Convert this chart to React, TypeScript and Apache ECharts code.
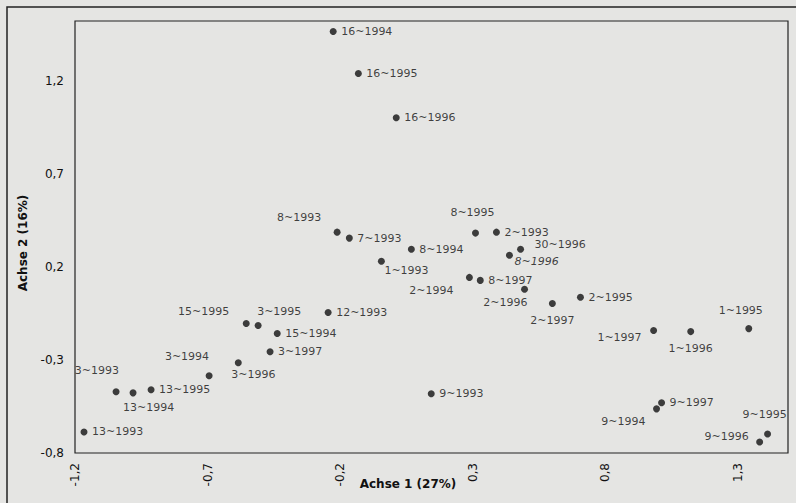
import React, { useEffect, useRef } from "react";
import * as echarts from "echarts";

const pointNames = [
  "16~1994", "16~1995", "16~1996", "8~1993", "7~1993", "8~1994", "1~1993", "8~1995", "2~1993",
  "30~1996", "8~1996", "2~1994", "8~1997", "2~1996", "2~1997", "2~1995", "12~1993", "15~1995",
  "3~1995", "15~1994", "3~1997", "3~1996", "3~1994", "3~1993", "13~1994", "13~1995", "13~1993",
  "9~1993", "1~1997", "1~1996", "1~1995", "9~1997", "9~1994", "9~1995", "9~1996",
];
const axis1Values = [
  -0.226, -0.131, 0.012, -0.211, -0.165, 0.069, -0.044, 0.311, 0.39,
  0.481, 0.439, 0.288, 0.329, 0.496, 0.601, 0.707, -0.245, -0.554,
  -0.509, -0.437, -0.464, -0.584, -0.694, -1.045, -0.981, -0.913, -1.166,
  0.144, 0.983, 1.123, 1.342, 1.013, 0.994, 1.413, 1.383,
];
const axis2Values = [
  1.464, 1.238, 1.0, 0.386, 0.354, 0.294, 0.23, 0.381, 0.386,
  0.294, 0.262, 0.143, 0.127, 0.079, 0.003, 0.036, -0.045, -0.105,
  -0.115, -0.158, -0.256, -0.315, -0.385, -0.471, -0.477, -0.46, -0.687,
  -0.482, -0.142, -0.148, -0.132, -0.53, -0.563, -0.698, -0.741,
];
const xTickStart = -1.2;
const yTickStart = -0.8;
const tickStep = 0.5;

// label placement (offset from dot centre, text alignment)
const labelPlacement: Record<string, [number, number, string]> = {
  "8~1993": [-16, -15, "right"],
  "1~1993": [3, 9, "left"],
  "8~1995": [-3, -21, "center"],
  "30~1996": [14, -5, "left"],
  "8~1996": [5, 6, "left"],
  "2~1994": [-16, 13, "right"],
  "2~1996": [3, 13, "right"],
  "2~1997": [0, 17, "center"],
  "15~1995": [-17, -12, "right"],
  "3~1995": [-1, -14, "left"],
  "3~1996": [-7, 12, "left"],
  "3~1994": [0, -19, "right"],
  "3~1993": [3, -21, "right"],
  "13~1994": [-10, 15, "left"],
  "1~1997": [-12, 7, "right"],
  "1~1996": [0, 17, "center"],
  "1~1995": [-8, -18, "center"],
  "9~1994": [-11, 13, "right"],
  "9~1995": [-3, -20, "center"],
  "9~1996": [-11, -6, "right"],
};
const italicLabels = ["8~1996"];

const FONT = "'DejaVu Sans', Verdana, sans-serif";
const INK = "#111";
const PAPER = "#e5e5e3";

function fmt(start: number) {
  return (v: number) => {
    const k = (v - start) / tickStep;
    if (Math.abs(k - Math.round(k)) > 1e-6) return "";
    return v.toFixed(1).replace(".", ",");
  };
}

export default function App() {
  const ref = useRef<HTMLDivElement>(null);
  useEffect(() => {
    if (!ref.current) return;
    const chart = echarts.init(ref.current, null, { renderer: "svg" });
    const data = pointNames.map((n, i) => {
      const p = labelPlacement[n] || [8, 0, "left"];
      return {
        name: n,
        value: [axis1Values[i], axis2Values[i]],
        label: {
          offset: [p[0], p[1]],
          align: p[2],
          fontStyle: italicLabels.includes(n) ? "italic" : "normal",
        },
      };
    });
    chart.setOption({
      animation: false,
      backgroundColor: PAPER,
      textStyle: { fontFamily: FONT },
      grid: {
        left: 75,
        right: 8,
        top: 21,
        bottom: 50,
        show: true,
        borderColor: "#222",
        borderWidth: 1.2,
        backgroundColor: "transparent",
      },
      xAxis: {
        type: "value",
        min: xTickStart,
        max: 1.49,
        interval: tickStep,
        axisLine: { show: false },
        axisTick: { show: false },
        splitLine: { show: false },
        axisLabel: {
          rotate: 90,
          margin: 10,
          color: INK,
          fontSize: 12,
          fontFamily: FONT,
          showMaxLabel: false,
          formatter: fmt(xTickStart),
        },
      },
      yAxis: {
        type: "value",
        min: yTickStart,
        max: 1.52,
        interval: tickStep,
        axisLine: { show: false },
        axisTick: { show: false },
        splitLine: { show: false },
        axisLabel: {
          margin: 11,
          color: INK,
          fontSize: 12,
          fontFamily: FONT,
          showMaxLabel: false,
          formatter: fmt(yTickStart),
        },
      },
      graphic: [
        {
          type: "rect",
          shape: { x: 7, y: 7, width: 820, height: 540 },
          style: { fill: "transparent", stroke: "#222", lineWidth: 1.5 },
          silent: true,
        },
        {
          type: "text",
          x: 408,
          y: 484,
          style: {
            text: "Achse 1 (27%)",
            font: `bold 12px ${FONT}`,
            fill: INK,
            align: "center",
            verticalAlign: "middle",
          },
        },
        {
          type: "text",
          x: 23,
          y: 243,
          rotation: Math.PI / 2,
          style: {
            text: "Achse 2 (16%)",
            font: `bold 12px ${FONT}`,
            fill: INK,
            align: "center",
            verticalAlign: "middle",
          },
        },
      ],
      series: [
        {
          type: "scatter",
          symbol: "circle",
          symbolSize: 7,
          itemStyle: { color: INK },
          label: {
            show: true,
            position: "inside",
            formatter: "{b}",
            color: INK,
            fontSize: 11,
            fontFamily: FONT,
            verticalAlign: "middle",
          },
          data,
        },
      ],
    });
    return () => chart.dispose();
  }, []);
  return (
    <div
      ref={ref}
      style={{ position: "fixed", left: 0, top: 0, width: 796, height: 503, background: PAPER }}
    />
  );
}
